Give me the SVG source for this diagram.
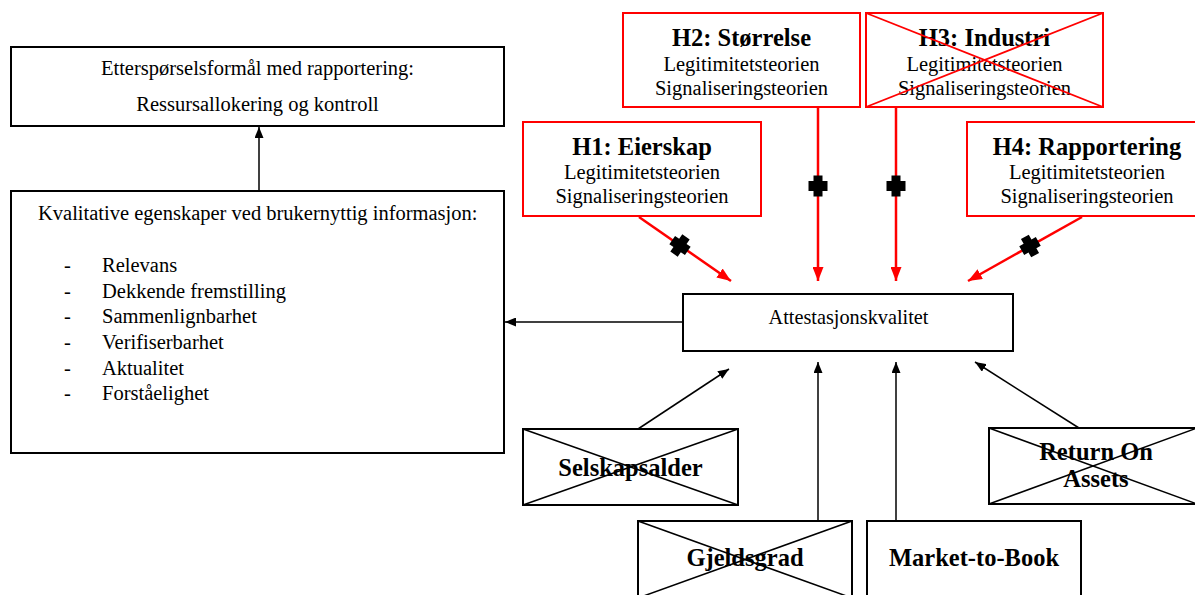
<svg xmlns="http://www.w3.org/2000/svg" width="1195" height="595" viewBox="0 0 1195 595">
<style>
.bx{fill:#fff;stroke:#000;stroke-width:2}
.rbx{fill:#fff;stroke:#f00;stroke-width:2}
.xb{stroke:#000;stroke-width:1.5}
.xr{stroke:#f00;stroke-width:1.8}
.t{font-family:"Liberation Serif","Times New Roman",serif;font-size:20.5px;fill:#000}
.b{font-family:"Liberation Serif","Times New Roman",serif;font-size:24.5px;font-weight:bold;fill:#000}
.c{text-anchor:middle}
.k{stroke:#000;stroke-width:1.5;fill:none}
.r{stroke:#f00;stroke-width:2.5;fill:none}
.pl{fill:#000}
</style>
<defs>
<marker id="ab" markerUnits="userSpaceOnUse" markerWidth="11" markerHeight="9" refX="11" refY="4.5" orient="auto"><path d="M0,0 L11,4.5 L0,9 z" fill="#000"/></marker>
<marker id="ar" markerUnits="userSpaceOnUse" markerWidth="14" markerHeight="11" refX="14" refY="5.5" orient="auto"><path d="M0,0 L14,5.5 L0,11 z" fill="#f00"/></marker>
<path id="plus" d="M-4.5,-10.5 H4.5 V-5 H9.5 V5 H4.5 V10.5 H-4.5 V5 H-9.5 V-5 H-4.5 Z"/>
</defs>

<g id="connectors">
<line class="k" x1="259" y1="191" x2="259" y2="127" marker-end="url(#ab)"/>
<line class="k" x1="683" y1="322" x2="505" y2="322" marker-end="url(#ab)"/>
<line class="r" x1="639" y1="217" x2="731" y2="281" marker-end="url(#ar)"/>
<line class="r" x1="818" y1="107" x2="818" y2="281" marker-end="url(#ar)"/>
<line class="r" x1="896" y1="107" x2="896" y2="281" marker-end="url(#ar)"/>
<line class="r" x1="1082" y1="217" x2="968" y2="281" marker-end="url(#ar)"/>
<use href="#plus" class="pl" transform="translate(680,245.5) rotate(34.8)"/>
<use href="#plus" class="pl" transform="translate(818,186)"/>
<use href="#plus" class="pl" transform="translate(896,186)"/>
<use href="#plus" class="pl" transform="translate(1030,246) rotate(-29.3)"/>
<line class="k" x1="638" y1="429" x2="729" y2="369" marker-end="url(#ab)"/>
<line class="k" x1="818" y1="521" x2="818" y2="362" marker-end="url(#ab)"/>
<line class="k" x1="896" y1="521" x2="896" y2="362" marker-end="url(#ab)"/>
<line class="k" x1="1079" y1="428" x2="975" y2="362" marker-end="url(#ab)"/>
</g>

<g id="node-formal">
<rect class="bx" x="11" y="47" width="493" height="79"/>
<text class="t c" x="257.5" y="75">Etterspørselsformål med rapportering:</text>
<text class="t c" x="257.5" y="111">Ressursallokering og kontroll</text>
</g>

<g id="node-kvalitative">
<rect class="bx" x="11" y="191" width="493" height="262"/>
<text class="t" x="38" y="220">Kvalitative egenskaper ved brukernyttig informasjon:</text>
<text class="t" x="64" y="272">-</text><text class="t" x="102" y="272">Relevans</text>
<text class="t" x="64" y="297.5">-</text><text class="t" x="102" y="297.5">Dekkende fremstilling</text>
<text class="t" x="64" y="323">-</text><text class="t" x="102" y="323">Sammenlignbarhet</text>
<text class="t" x="64" y="349">-</text><text class="t" x="102" y="349">Verifiserbarhet</text>
<text class="t" x="64" y="374.5">-</text><text class="t" x="102" y="374.5">Aktualitet</text>
<text class="t" x="64" y="400">-</text><text class="t" x="102" y="400">Forståelighet</text>
</g>

<g id="node-h1">
<rect class="rbx" x="523" y="122" width="238" height="94"/>
<text class="b c" x="642" y="155">H1: Eierskap</text>
<text class="t c" x="642" y="179">Legitimitetsteorien</text>
<text class="t c" x="642" y="203">Signaliseringsteorien</text>
</g>

<g id="node-h2">
<rect class="rbx" x="623" y="13" width="237" height="94"/>
<text class="b c" x="741.5" y="46">H2: Størrelse</text>
<text class="t c" x="741.5" y="71">Legitimitetsteorien</text>
<text class="t c" x="741.5" y="94.5">Signaliseringsteorien</text>
</g>

<g id="node-h3">
<rect class="rbx" x="866" y="13" width="237" height="94"/>
<text class="b c" x="984.5" y="46">H3: Industri</text>
<text class="t c" x="984.5" y="71">Legitimitetsteorien</text>
<text class="t c" x="984.5" y="94.5">Signaliseringsteorien</text>
<line class="xr" x1="866" y1="13" x2="1103" y2="107"/>
<line class="xr" x1="1103" y1="13" x2="866" y2="107"/>
</g>

<g id="node-h4">
<rect class="rbx" x="967" y="122" width="245" height="94"/>
<text class="b c" x="1087" y="155">H4: Rapportering</text>
<text class="t c" x="1087" y="179">Legitimitetsteorien</text>
<text class="t c" x="1087" y="203">Signaliseringsteorien</text>
</g>

<g id="node-attestasjon">
<rect class="bx" x="683" y="294" width="330" height="57"/>
<text class="t c" x="848.5" y="323.5" style="font-size:20.3px">Attestasjonskvalitet</text>
</g>

<g id="node-selskapsalder">
<rect class="bx" x="523" y="429" width="215" height="76"/>
<text class="b c" x="630.5" y="476">Selskapsalder</text>
<line class="xb" x1="523" y1="429" x2="738" y2="505"/>
<line class="xb" x1="738" y1="429" x2="523" y2="505"/>
</g>

<g id="node-gjeldsgrad">
<rect class="bx" x="638" y="521" width="214" height="77"/>
<text class="b c" x="745" y="566">Gjeldsgrad</text>
<line class="xb" x1="638" y1="521" x2="852" y2="598"/>
<line class="xb" x1="852" y1="521" x2="638" y2="598"/>
</g>

<g id="node-market">
<rect class="bx" x="867" y="521" width="214" height="77"/>
<text class="b c" x="974" y="566">Market-to-Book</text>
</g>

<g id="node-roa">
<rect class="bx" x="989" y="428" width="208" height="76"/>
<text class="b c" x="1096" y="460">Return On</text>
<text class="b c" x="1096" y="487">Assets</text>
<line class="xb" x1="989" y1="428" x2="1197" y2="504"/>
<line class="xb" x1="1197" y1="428" x2="989" y2="504"/>
</g>
</svg>
